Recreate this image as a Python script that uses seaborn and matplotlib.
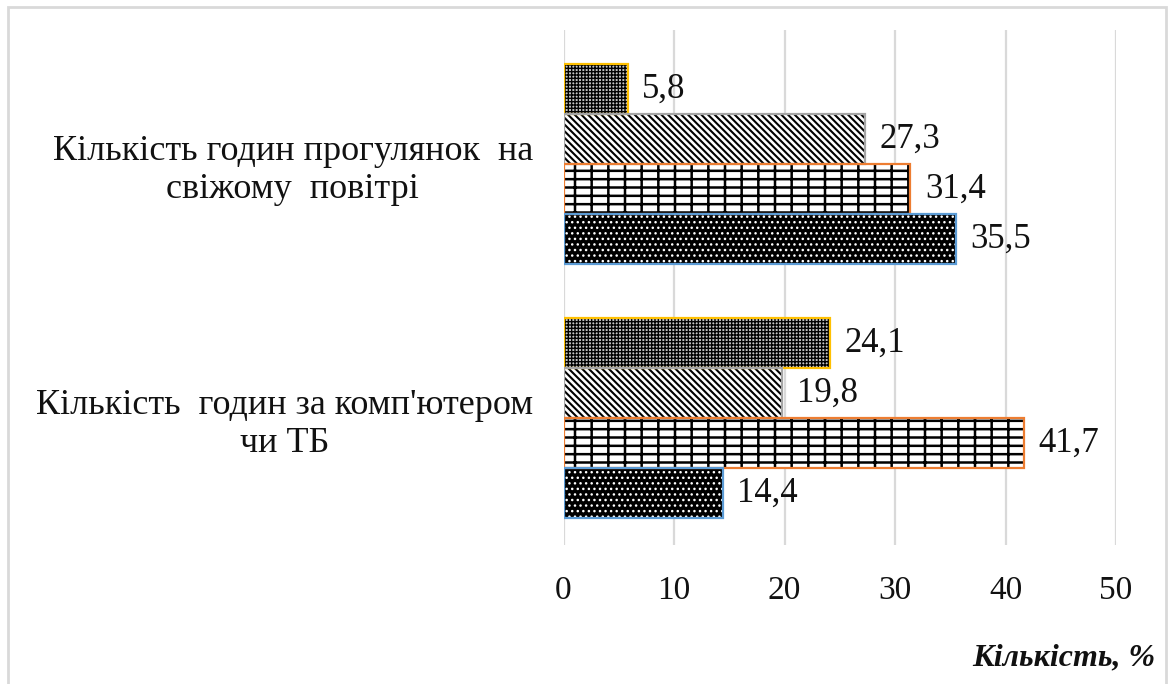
import matplotlib
matplotlib.use("Agg")
import matplotlib.pyplot as plt
from matplotlib.patches import Rectangle
import seaborn as sns
import pandas as pd

# Survey data (percent of respondents)
categories = [
    "Кількість годин прогулянок  на\nсвіжому  повітрі",
    "Кількість  годин за комп'ютером\nчи ТБ",
]
series = ["Група 4", "Група 3", "Група 2", "Група 1"]
values = {
    "Група 4": [5.8, 24.1],
    "Група 3": [27.3, 19.8],
    "Група 2": [31.4, 41.7],
    "Група 1": [35.5, 14.4],
}
x_ticks = [0, 10, 20, 30, 40, 50]
x_title = "Кількість, %"

# Outline colours and fill patterns per series
outline = {"Група 4": "#FFC000", "Група 3": "#A5A5A5",
           "Група 2": "#ED7D31", "Група 1": "#5B9BD5"}
fills = {
    "Група 4": dict(face="#c4c4c4", hatch="+++++", hcolor="black", hlw=1.0),
    "Група 3": dict(face="white", hatch="\\\\\\\\\\", hcolor="black", hlw=1.5),
    "Група 2": dict(face="white", hatch="--|", hcolor="black", hlw=1.8),
    "Група 1": dict(face="black", hatch="...", hcolor="white", hlw=1.0),
}

rows = []
for s in series:
    for c, v in zip(categories, values[s]):
        rows.append({"category": c, "series": s, "value": v})
df = pd.DataFrame(rows)

sns.set_theme(style="white")
plt.rcParams["font.family"] = ["Liberation Serif", "DejaVu Serif"]
plt.rcParams["hatch.linewidth"] = 1.2

W, H = 1174, 684
fig = plt.figure(figsize=(W / 100, H / 100), dpi=100)
ax = fig.add_axes([563.5 / W, 1 - 545 / H, (1116 - 563.5) / W, (545 - 30) / H])

sns.barplot(data=df, x="value", y="category", hue="series", hue_order=series,
            order=categories, palette=outline, orient="h", width=0.79,
            saturation=1, legend=False, ax=ax)

for s, cont in zip(series, ax.containers):
    f = fills[s]
    for p, v in zip(cont.patches, values[s]):
        p.set_facecolor(f["face"])
        p.set_edgecolor(f["hcolor"])
        p.set_hatch(f["hatch"])
        p.set_linewidth(0)
        if hasattr(p, "set_hatch_linewidth"):
            p.set_hatch_linewidth(f["hlw"])
        x0, y0 = p.get_xy()
        ax.add_patch(Rectangle((x0, y0), p.get_width(), p.get_height(),
                               fill=False, edgecolor=outline[s], lw=1.6, zorder=3))
        ax.text(v + 1.3, y0 + p.get_height() / 2, f"{v:.1f}".replace(".", ","),
                ha="left", va="center", fontsize=25, color="#111111")

ax.set_xlim(0, 50)
ax.set_ylim(1.5, -0.528)
ax.set_xticks(x_ticks)
ax.set_xticklabels([str(t) for t in x_ticks])
ax.xaxis.grid(True, color="#d9d9d9", lw=1.6)
ax.yaxis.grid(False)
ax.set_axisbelow(True)
for sp in ax.spines.values():
    sp.set_visible(False)
ax.tick_params(axis="x", length=0, pad=22, labelsize=24, labelcolor="#111111")
ax.tick_params(axis="y", length=0, pad=22, labelsize=26, labelcolor="#111111")
for lab in ax.get_yticklabels():
    lab.set_multialignment("center")
    lab.set_linespacing(1.2)
ax.set_xlabel("")
ax.set_ylabel("")

fig.text(1155 / W, 1 - 658 / H, x_title, ha="right", va="center",
         fontsize=23, fontweight="bold", fontstyle="italic", color="#111111")

# Light frame around the whole chart
fig.patches.append(Rectangle((8 / W, -0.05), (1166 - 8) / W, 1.05 - 7 / H,
                             transform=fig.transFigure, fill=False,
                             edgecolor="#d9d9d9", lw=2, clip_on=False))

fig.savefig("out.png", dpi=100)
